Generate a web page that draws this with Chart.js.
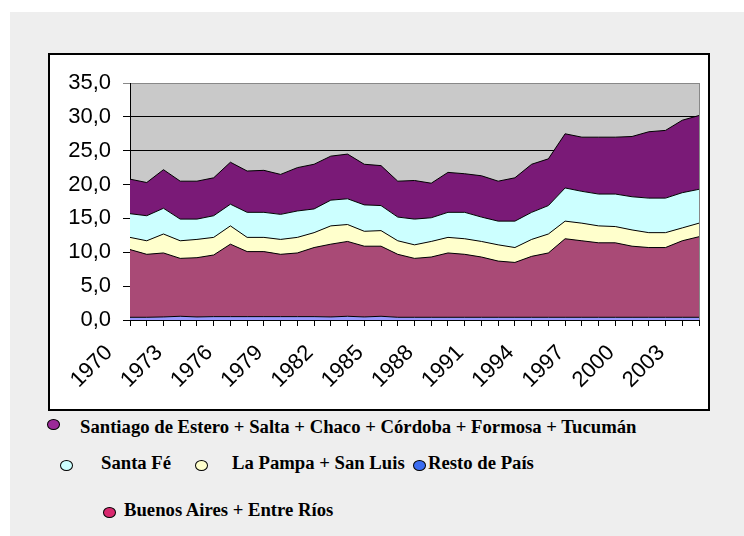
<!DOCTYPE html>
<html>
<head>
<meta charset="utf-8">
<script src="https://cdn.jsdelivr.net/npm/chart.js@4"></script>
<style>
  body { margin:0; width:744px; height:536px; background:#fff; position:relative; overflow:hidden; }
  #panel { position:absolute; left:10px; top:12px; width:734px; height:524px; background:#eeeeee; }
  #box { position:absolute; left:48px; top:53px; width:662px; height:358px; box-sizing:border-box; border:2px solid #000; background:#fff; }
  #myChart { position:absolute; left:50px; top:55px; }
  .leg { position:absolute; font-family:"Liberation Serif","Times New Roman",serif; font-weight:bold; font-size:18.7px; color:#000; white-space:nowrap; line-height:1; }
  .dot { position:absolute; width:11px; height:9px; border-radius:50%; border:1px solid #000; }
</style>
</head>
<body>
<div id="panel"></div>
<div id="box"></div>
<canvas id="myChart" width="658" height="354"></canvas>
<div id="legend"></div>
<script>
// años
const labels = ['1970','1971','1972','1973','1974','1975','1976','1977','1978','1979',
  '1980','1981','1982','1983','1984','1985','1986','1987','1988','1989',
  '1990','1991','1992','1993','1994','1995','1996','1997','1998','1999',
  '2000','2001','2002','2003','2004'];

const resto = [0.4,0.4,0.45,0.55,0.45,0.5,0.5,0.5,0.5,0.5,0.5,0.5,0.45,0.55,0.45,0.55,0.4,0.4,0.4,0.4,
  0.4,0.4,0.4,0.4,0.4,0.4,0.4,0.4,0.4,0.4,0.4,0.4,0.4,0.4,0.4];
const buenosAires = [10.0,9.3,9.45,8.55,8.75,9.1,10.7,9.6,9.6,9.2,9.4,10.2,10.75,11.05,10.45,10.35,9.3,8.7,8.9,9.5,
  9.3,8.9,8.3,8.1,9.0,9.5,11.6,11.3,11.0,11.0,10.5,10.3,10.3,11.3,11.9];
const laPampa = [1.8,2.0,2.8,2.6,2.7,2.6,2.7,2.1,2.1,2.2,2.3,2.2,2.7,2.5,2.2,2.3,2.0,2.0,2.3,2.3,
  2.3,2.3,2.4,2.2,2.5,2.8,2.6,2.6,2.5,2.4,2.4,2.2,2.2,1.9,2.0];
const santaFe = [3.5,3.7,3.8,3.2,3.0,3.2,3.2,3.7,3.7,3.7,3.9,3.5,3.8,3.8,3.9,3.7,3.5,3.8,3.5,3.7,
  3.9,3.6,3.5,3.9,4.0,4.2,4.9,4.7,4.7,4.8,4.9,5.1,5.1,5.2,5.0];
const norte = [5.1,4.9,5.7,5.6,5.6,5.6,6.2,6.1,6.2,5.9,6.4,6.6,6.5,6.6,6.0,5.9,5.3,5.7,5.1,5.9,
  5.7,6.1,5.9,6.4,7.1,6.9,8.0,8.0,8.4,8.4,8.9,9.8,10.0,10.7,10.9];

const yTicks = [0,5,10,15,20,25,30,35];

const ctx = document.getElementById('myChart');

const fondoPlot = {
  id: 'fondoPlot',
  beforeDraw(chart) {
    const a = chart.chartArea;
    const c = chart.ctx;
    c.save();
    c.fillStyle = '#c9c9c9';
    c.fillRect(a.left, a.top, a.right - a.left, a.bottom - a.top);
    c.strokeStyle = '#888';
    c.lineWidth = 1;
    c.beginPath();
    c.moveTo(a.right + 0.5, a.top);
    c.lineTo(a.right + 0.5, a.bottom);
    c.stroke();
    c.restore();
  }
};

function serie(label, data, color, fill) {
  return {
    label: label,
    data: data,
    backgroundColor: color,
    borderColor: '#000',
    borderWidth: 1,
    pointRadius: 0,
    tension: 0,
    fill: fill
  };
}

new Chart(ctx, {
  type: 'line',
  data: {
    labels: labels,
    datasets: [
      serie('Resto de País', resto, '#9999ff', 'origin'),
      serie('Buenos Aires + Entre Ríos', buenosAires, '#a94a76', '-1'),
      serie('La Pampa + San Luis', laPampa, '#ffffcc', '-1'),
      serie('Santa Fé', santaFe, '#ccffff', '-1'),
      serie('Santiago de Estero + Salta + Chaco + Córdoba + Formosa + Tucumán', norte, '#7a1a77', '-1')
    ]
  },
  options: {
    responsive: false,
    animation: false,
    layout: { padding: { top: 28, right: 9, left: 0, bottom: 0 } },
    plugins: { legend: { display: false }, tooltip: { enabled: false } },
    scales: {
      x: {
        offset: false,
        grid: { display: true, drawOnChartArea: false, tickLength: 6, color: '#000' },
        border: { color: '#000', width: 1 },
        ticks: {
          autoSkip: false,
          minRotation: 45,
          maxRotation: 45,
          padding: 14,
          labelOffset: -21,
          color: '#000',
          font: { family: 'Liberation Sans', size: 22 },
          callback: function(v, i) { return i % 3 === 0 ? labels[i] : ''; }
        },
        afterFit: function(s) { s.height = 89; s.paddingLeft = 0; s.paddingRight = 0; }
      },
      y: {
        stacked: true,
        min: 0,
        max: 35,
        afterBuildTicks: function(s) { s.ticks = yTicks.map(v => ({ value: v })); },
        grid: {
          tickLength: 7,
          color: function(c) { return c.tick && c.tick.value === 35 ? '#888' : '#000'; }
        },
        border: { color: '#000', width: 1 },
        ticks: {
          padding: 12,
          color: '#000',
          font: { family: 'Liberation Sans', size: 22 },
          callback: function(v) { return v.toFixed(1).replace('.', ','); }
        },
        afterFit: function(s) { s.width = 80; s.paddingTop = 0; s.paddingBottom = 0; }
      }
    }
  },
  plugins: [fondoPlot]
});

// leyenda
const leyenda = [
  { texto: 'Santiago de Estero + Salta + Chaco + Córdoba + Formosa + Tucumán', color: '#9b2a98', dx: 47, dy: 419, tx: 80, y: 433 },
  { texto: 'Santa Fé', color: '#ccffff', dx: 60, dy: 460, tx: 101, y: 469 },
  { texto: 'La Pampa + San Luis', color: '#ffffcc', dx: 195, dy: 460, tx: 232, y: 469 },
  { texto: 'Resto de País', color: '#3b6cf0', dx: 413, dy: 460, tx: 428, y: 469 },
  { texto: 'Buenos Aires + Entre Ríos', color: '#d8286e', dx: 103, dy: 507, tx: 124, y: 516 }
];
const cont = document.getElementById('legend');
leyenda.forEach(l => {
  cont.innerHTML += `<div class="dot" style="left:${l.dx}px;top:${l.dy}px;background:${l.color}"></div>
    <div class="leg" style="left:${l.tx}px;top:${l.y - 15}px">${l.texto}</div>`;
});
</script>
</body>
</html>
